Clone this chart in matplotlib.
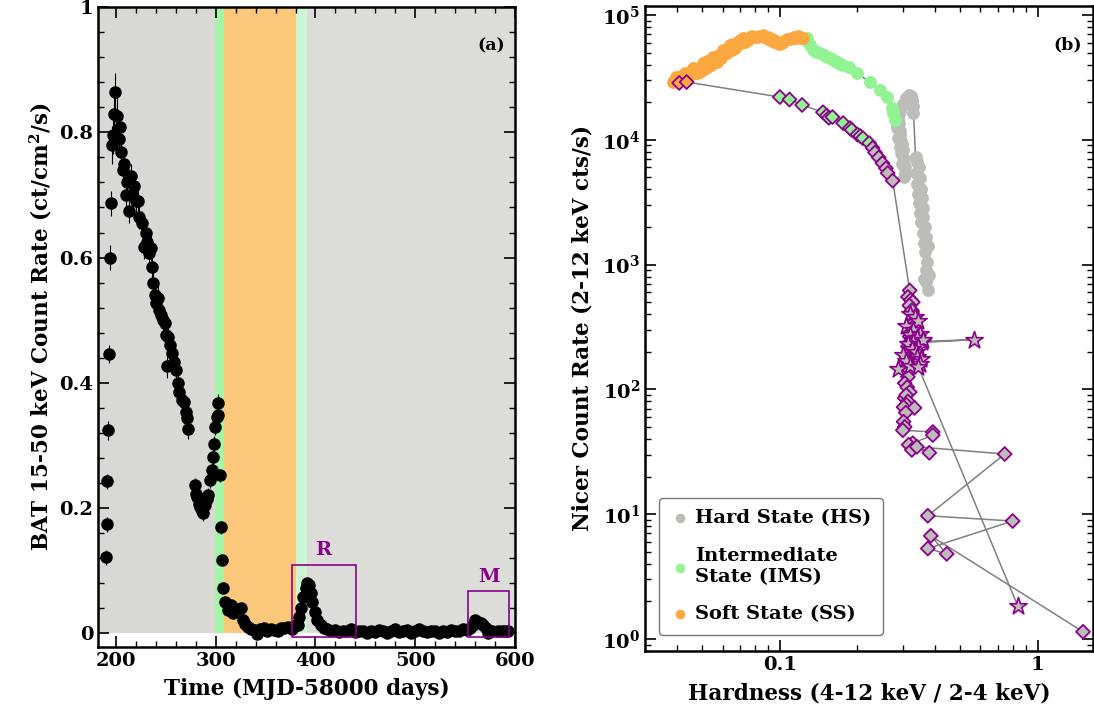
import numpy as np
import matplotlib.pyplot as plt
from matplotlib.ticker import MultipleLocator, FixedLocator, NullFormatter, LogLocator

plt.rcParams['font.family'] = ['DejaVu Serif']
plt.rcParams['font.weight'] = 'bold'
plt.rcParams['axes.labelweight'] = 'bold'
plt.rcParams['mathtext.fontset'] = 'dejavuserif'

# ---- panel (a): Swift/BAT light curve ----
bat_day = [189.5, 190.5, 191.5, 192.5, 193.5, 194.5, 195.5, 196.5, 197.3, 198.2,
           199.5, 201.5, 203.0, 204.5, 205.5, 207.0, 208.0, 210.0, 211.5, 213.0,
           215.0, 216.5, 218.0, 220.0, 222.0, 223.0, 226.0, 228.0, 230.0, 231.5,
           233.0, 235.0, 236.0, 237.5, 239.0, 240.5, 242.0, 243.0, 245.0, 247.0,
           249.0, 250.5, 252.0, 251.0, 254.0, 256.0, 258.5, 260.0, 262.0, 263.5,
           266.0, 268.0, 270.0, 271.5, 272.5,
           279.6, 280.5, 281.5, 283.0, 284.6, 286.0, 287.6, 289.5, 291.0, 292.6,
           294.7, 296.7, 297.7, 298.2, 299.7, 301.7, 302.7, 302.0,
           304.7, 305.7, 306.7, 307.8, 309.8, 312.8, 315.0, 317.8, 321.0, 324.9,
           326.9, 329.0, 331.9, 335.0, 338.0, 341.0, 344.0, 348.0, 351.0, 355.0,
           358.0, 362.0, 365.0, 368.0, 372.0, 376.0, 380.0,
           382.0, 383.6, 385.3, 388.0, 390.3, 392.0, 393.6, 395.4, 397.0, 399.4,
           402.0, 405.4, 408.8, 412.0, 416.0, 420.0, 424.0, 428.0, 432.0, 436.0,
           440.0, 444.0, 448.0, 452.0, 456.0, 460.0, 464.0, 468.0, 472.0, 476.0,
           480.0, 484.0, 488.0, 492.0, 496.0, 500.0, 504.0, 508.0, 512.0, 516.0,
           520.0, 524.0, 528.0, 532.0, 536.0, 540.0, 544.0, 548.0, 552.0, 555.0,
           558.0, 559.8, 563.0, 565.5, 568.0, 570.5, 573.0, 577.0, 583.0, 587.0,
           590.0, 593.0]
bat_rate = [0.121, 0.174, 0.243, 0.324, 0.446, 0.600, 0.687, 0.780, 0.795, 0.830,
            0.864, 0.826, 0.790, 0.808, 0.768, 0.740, 0.750, 0.700, 0.720, 0.675,
            0.730, 0.700, 0.715, 0.690, 0.690, 0.665, 0.655, 0.617, 0.640, 0.625,
            0.607, 0.615, 0.585, 0.559, 0.540, 0.527, 0.535, 0.516, 0.508, 0.500,
            0.495, 0.476, 0.473, 0.427, 0.460, 0.447, 0.433, 0.420, 0.400, 0.385,
            0.372, 0.369, 0.353, 0.343, 0.326,
            0.236, 0.222, 0.217, 0.207, 0.201, 0.196, 0.192, 0.205, 0.214, 0.220,
            0.244, 0.260, 0.281, 0.303, 0.329, 0.345, 0.367, 0.348,
            0.252, 0.169, 0.117, 0.072, 0.050, 0.037, 0.045, 0.032, 0.038, 0.040,
            0.021, 0.015, 0.010, 0.006, 0.005, -0.002, 0.006, 0.008, 0.004, 0.007,
            0.005, 0.003, 0.008, 0.008, 0.010, 0.006, 0.013,
            0.013, 0.026, 0.040, 0.058, 0.072, 0.080, 0.077, 0.064, 0.050, 0.034,
            0.021, 0.013, 0.008, 0.006, 0.003, 0.005, 0.002, 0.004, 0.003, 0.006,
            0.002, 0.004, 0.003, 0.001, 0.004, 0.002, 0.005, 0.003, 0.001, 0.004,
            0.006, 0.002, 0.003, 0.005, 0.001, 0.004, 0.007, 0.003, 0.002, 0.004,
            0.003, 0.001, 0.004, 0.002, 0.005, 0.003, 0.004, 0.006, 0.005, 0.008,
            0.013, 0.021, 0.018, 0.016, 0.013, 0.008, 0.000, 0.003, 0.003, 0.004,
            0.003, 0.003]
bat_err = [0.012, 0.012, 0.012, 0.015, 0.015, 0.020, 0.020, 0.030, 0.030, 0.030,
           0.030, 0.030, 0.025, 0.025, 0.025, 0.025, 0.020, 0.025, 0.020, 0.020,
           0.020, 0.020, 0.020, 0.020, 0.020, 0.020, 0.020, 0.020, 0.020, 0.020,
           0.020, 0.020, 0.020, 0.020, 0.020, 0.020, 0.020, 0.020, 0.020, 0.020,
           0.020, 0.020, 0.020, 0.020, 0.020, 0.020, 0.020, 0.020, 0.020, 0.020,
           0.015, 0.015, 0.015, 0.015, 0.015,
           0.012, 0.012, 0.012, 0.012, 0.012, 0.012, 0.012, 0.012, 0.012, 0.012,
           0.012, 0.012, 0.012, 0.012, 0.012, 0.012, 0.015, 0.012,
           0.010, 0.010, 0.008, 0.008, 0.006, 0.006, 0.006, 0.006, 0.006, 0.006,
           0.005, 0.005, 0.005, 0.005, 0.005, 0.005, 0.005, 0.005, 0.005, 0.005,
           0.005, 0.005, 0.005, 0.005, 0.005, 0.005, 0.005,
           0.005, 0.005, 0.005, 0.006, 0.006, 0.006, 0.006, 0.006, 0.005, 0.005,
           0.005, 0.005, 0.005, 0.005, 0.005, 0.005, 0.005, 0.005, 0.005, 0.005,
           0.005, 0.005, 0.005, 0.005, 0.005, 0.005, 0.005, 0.005, 0.005, 0.005,
           0.005, 0.005, 0.005, 0.005, 0.005, 0.005, 0.005, 0.005, 0.005, 0.005,
           0.005, 0.005, 0.005, 0.005, 0.005, 0.005, 0.005, 0.005, 0.005, 0.005,
           0.005, 0.005, 0.005, 0.005, 0.005, 0.005, 0.005, 0.005, 0.005, 0.005,
           0.005, 0.005]

# state intervals (MJD-58000)
hs1 = (182, 299.5)
ims1 = (299.5, 308.6)
ss = (308.6, 380.5)
ims2 = (380.5, 391.6)
hs2 = (391.6, 600)
box_R = (376.5, 440.5, -0.006, 0.109)
box_M = (553, 594, -0.006, 0.067)

# ---- panel (b): hardness-intensity diagram ----
# outburst rise -> soft state, filled circles (time order)
hs_rise_h = [0.375, 0.370, 0.362, 0.378, 0.368, 0.372, 0.366, 0.376, 0.362, 0.370,
             0.358, 0.366, 0.352, 0.360, 0.350, 0.358, 0.346, 0.355, 0.343, 0.352,
             0.340, 0.349, 0.338, 0.346, 0.341, 0.336,
             0.330, 0.328, 0.325, 0.322, 0.318, 0.314, 0.310, 0.305, 0.300, 0.297,
             0.295, 0.292, 0.290, 0.288, 0.287, 0.289, 0.284, 0.292, 0.293, 0.288,
             0.296, 0.297, 0.292, 0.300, 0.296, 0.301, 0.303, 0.299, 0.305, 0.307,
             0.303, 0.296, 0.290, 0.286]
hs_rise_r = [630, 720, 760, 820, 900, 1050, 1250, 1400, 1500, 1650,
             1800, 2000, 2200, 2400, 2600, 2850, 3100, 3400, 3700, 4000,
             4400, 4900, 5400, 6000, 6600, 7300,
             16500, 18500, 21000, 22500, 23000, 22000, 21500, 20000, 19500, 18500,
             18000, 17000, 16000, 15000, 14400, 13500, 12500, 11800, 11000, 10400,
             9800, 9300, 8800, 8200, 7800, 7300, 6900, 6400, 6000, 5400,
             5000, 9000, 12000, 13000]
ims_h = [0.279, 0.274, 0.272, 0.260, 0.244, 0.223, 0.200, 0.185, 0.174, 0.170,
         0.166, 0.163, 0.160, 0.156, 0.152, 0.148, 0.143, 0.140, 0.137, 0.134,
         0.131, 0.129, 0.127]
ims_r = [14500, 16500, 18000, 22000, 25000, 29000, 34000, 38000, 40000, 41000,
         42000, 43000, 44000, 45000, 46000, 48000, 49700, 50500, 51000, 52500,
         57500, 61000, 65400]
ss_h = [0.123, 0.121, 0.120, 0.118, 0.116, 0.114, 0.112, 0.110, 0.107, 0.104,
        0.102, 0.100, 0.099, 0.097, 0.095, 0.093, 0.0915, 0.090, 0.088, 0.086,
        0.0836, 0.082, 0.080, 0.078, 0.0765, 0.075, 0.073, 0.072, 0.071, 0.070,
        0.069, 0.068, 0.067, 0.066, 0.065, 0.064, 0.063, 0.0623, 0.061, 0.060,
        0.059, 0.058, 0.057, 0.056, 0.055, 0.054, 0.053, 0.052, 0.0515, 0.0503,
        0.050, 0.049, 0.0477, 0.047, 0.046, 0.045, 0.044, 0.043, 0.0421, 0.0415,
        0.040, 0.0395, 0.0385]
ss_r = [65400, 65000, 66000, 67500, 65400, 66000, 65000, 64500, 64300, 62000,
        60000, 59700, 59000, 62000, 61000, 64000, 63000, 67000, 65000, 69000,
        68000, 66000, 66000, 68000, 66700, 63000, 61000, 65000, 60000, 63000,
        61000, 57000, 54000, 59000, 52000, 57500, 53000, 49700, 50000, 52500,
        45000, 48000, 42000, 44000, 46000, 40000, 39000, 43000, 37500, 41200,
        36000, 35000, 34300, 36000, 37600, 33000, 32000, 34500, 33000, 30500,
        30000, 32000, 29000]

# outburst decay, diamonds (time order) with spectral state of each point
dec_h = [0.0407, 0.0435, 0.100, 0.109, 0.122, 0.147, 0.152, 0.155, 0.160, 0.176,
         0.187, 0.190, 0.200, 0.205, 0.210, 0.222, 0.229, 0.234, 0.242, 0.250,
         0.258, 0.262, 0.274, 0.319, 0.314, 0.322, 0.328, 0.318, 0.325, 0.333,
         0.330, 0.325, 0.320, 0.319, 0.325, 0.330, 0.314, 0.322, 0.310, 0.319,
         0.315, 0.310, 0.318, 0.314, 0.305, 0.312, 0.319, 0.305, 0.309, 0.314,
         0.310, 0.302, 0.333, 0.308, 0.302, 0.305, 0.300, 0.392, 0.392, 0.328,
         0.380, 0.316, 0.325, 0.340, 0.745, 0.375, 0.800, 0.375, 0.444, 0.385,
         1.50]
dec_r = [28500, 29000, 22000, 21000, 19000, 16600, 15600, 15000, 15200, 13600,
         12400, 12000, 11000, 10700, 10300, 9400, 8600, 7900, 7200, 6500,
         5900, 5400, 4700, 620, 550, 520, 500, 470, 430, 380,
         355, 330, 300, 265, 258, 240, 220, 200, 183, 172,
         163, 150, 143, 126, 112, 104, 95, 85, 90, 80,
         75, 72, 71, 65, 55, 50, 47, 45.5, 43, 37,
         31, 36, 32.7, 34.6, 30.3, 9.7, 8.8, 5.3, 4.8, 6.7,
         1.14]
dec_state = ['SS', 'SS'] + ['IMS'] * 14 + ['HS'] * 55

# reflare points, stars (time order)
star_h = [0.320, 0.335, 0.310, 0.345, 0.330, 0.350, 0.320, 0.340, 0.355, 0.325,
          0.565, 0.330, 0.360, 0.315, 0.345, 0.325, 0.338, 0.300, 0.340, 0.310,
          0.352, 0.287, 0.320, 0.350, 0.345, 0.837]
star_r = [400, 380, 320, 350, 300, 280, 270, 260, 240, 235,
          250, 240, 250, 230, 220, 210, 200, 190, 180, 170,
          175, 146, 155, 160, 150, 1.84]

c_hs = '#bcbdb8'
c_ims = '#92f392'
c_ss = '#fca840'
c_edge = '#8b008b'
state_col = {'HS': c_hs, 'IMS': c_ims, 'SS': c_ss}

fig = plt.figure(figsize=(10.94, 7.12), dpi=100)
axa = fig.add_axes([0.0896, 0.0913, 0.3811, 0.8987])
axb = fig.add_axes([0.5896, 0.0857, 0.4095, 0.9059])

# --- panel a ---
xr = np.array([hs1[0], hs2[1]])
axa.fill_between(hs1, 0, 1, color='#d8d9d4', lw=0, zorder=0)
axa.fill_between(ims1, 0, 1, color='#a6f5a6', lw=0, zorder=0)
axa.fill_between(ss, 0, 1, color='#fbc77a', lw=0, zorder=0)
axa.fill_between(ims2, 0, 1, color='#cbf8d3', lw=0, zorder=0)
axa.fill_between(hs2, 0, 1, color='#dcddd9', lw=0, zorder=0)
axa.errorbar(bat_day, bat_rate, yerr=bat_err, fmt='o', color='black', ms=8,
             elinewidth=0.8, capsize=0, zorder=3)
for x0, x1, y0, y1 in [box_R, box_M]:
    axa.add_patch(plt.Rectangle((x0, y0), x1 - x0, y1 - y0, fill=False,
                                ec=c_edge, lw=1.2, zorder=4))
axa.text(408, 0.118, 'R', color=c_edge, fontsize=14, ha='center', va='bottom')
axa.text(573.5, 0.075, 'M', color=c_edge, fontsize=14, ha='center', va='bottom')
axa.text(0.975, 0.94, '(a)', transform=axa.transAxes, fontsize=12.5, ha='right', va='center')
axa.set_xlim(xr)
axa.set_ylim(-0.022, 1.0)
axa.xaxis.set_major_locator(MultipleLocator(100))
axa.xaxis.set_minor_locator(MultipleLocator(20))
axa.yaxis.set_minor_locator(MultipleLocator(0.04))
axa.set_yticks([0, 0.2, 0.4, 0.6, 0.8, 1.0])
axa.set_yticklabels(['0', '0.2', '0.4', '0.6', '0.8', '1'])
axa.set_xlabel('Time (MJD-58000 days)', fontsize=15.5, labelpad=6)
axa.set_ylabel(r'BAT 15-50 keV Count Rate (ct/cm$^\mathbf{2}$/s)', fontsize=15.5, labelpad=4)

# --- panel b ---
circ_h = hs_rise_h + ims_h + ss_h
circ_r = hs_rise_r + ims_r + ss_r
axb.plot(circ_h, circ_r, '-', color='#808080', lw=1.1, zorder=1)
axb.plot(dec_h, dec_r, '-', color='#808080', lw=1.1, zorder=1)
axb.plot(star_h, star_r, '-', color='#808080', lw=1.1, zorder=1)
axb.scatter(hs_rise_h, hs_rise_r, s=85, color=c_hs, lw=0, zorder=2, label='Hard State (HS)')
axb.scatter(ims_h, ims_r, s=85, color=c_ims, lw=0, zorder=2, label='Intermediate\nState (IMS)')
axb.scatter(ss_h, ss_r, s=85, color=c_ss, lw=0, zorder=2, label='Soft State (SS)')
axb.scatter(dec_h, dec_r, s=50, marker='D', c=[state_col[s] for s in dec_state],
            edgecolors=c_edge, linewidths=1.3, zorder=3)
axb.scatter(star_h, star_r, s=170, marker='*', color=c_hs,
            edgecolors=c_edge, linewidths=1.2, zorder=3)
axb.set_xscale('log')
axb.set_yscale('log')
axb.set_xlim(0.030, 1.64)
axb.set_ylim(0.80, 1.18e5)
axb.xaxis.set_major_locator(FixedLocator([0.1, 1]))
axb.set_xticklabels(['0.1', '1'])
axb.xaxis.set_minor_locator(LogLocator(base=10, subs=np.arange(2, 10)))
axb.xaxis.set_minor_formatter(NullFormatter())
axb.yaxis.set_major_locator(FixedLocator([1, 10, 100, 1e3, 1e4, 1e5]))
axb.set_yticklabels([r'$\mathbf{10^{%d}}$' % k for k in range(6)])
axb.yaxis.set_minor_locator(LogLocator(base=10, subs=np.arange(2, 10)))
axb.yaxis.set_minor_formatter(NullFormatter())
axb.text(0.975, 0.94, '(b)', transform=axb.transAxes, fontsize=12.5, ha='right', va='center')
axb.set_xlabel('Hardness (4-12 keV / 2-4 keV)', fontsize=15.5, labelpad=6)
axb.set_ylabel('Nicer Count Rate (2-12 keV cts/s)', fontsize=15.5, labelpad=6)
leg = axb.legend(loc='lower left', fontsize=14, frameon=True, fancybox=True,
                 edgecolor='#555555', handletextpad=0.35, borderpad=0.6,
                 handlelength=0.9, labelspacing=1.0, scatterpoints=1,
                 markerscale=0.75, bbox_to_anchor=(0.01, 0.01))
leg.get_frame().set_linewidth(1.0)

for ax in (axa, axb):
    ax.tick_params(which='both', direction='in', top=True, right=True, labelsize=14)
    ax.tick_params(which='major', length=8, width=1.2)
    ax.tick_params(which='minor', length=4, width=1.0)
    for s in ax.spines.values():
        s.set_linewidth(1.8)

fig.savefig('out.png', dpi=100)
